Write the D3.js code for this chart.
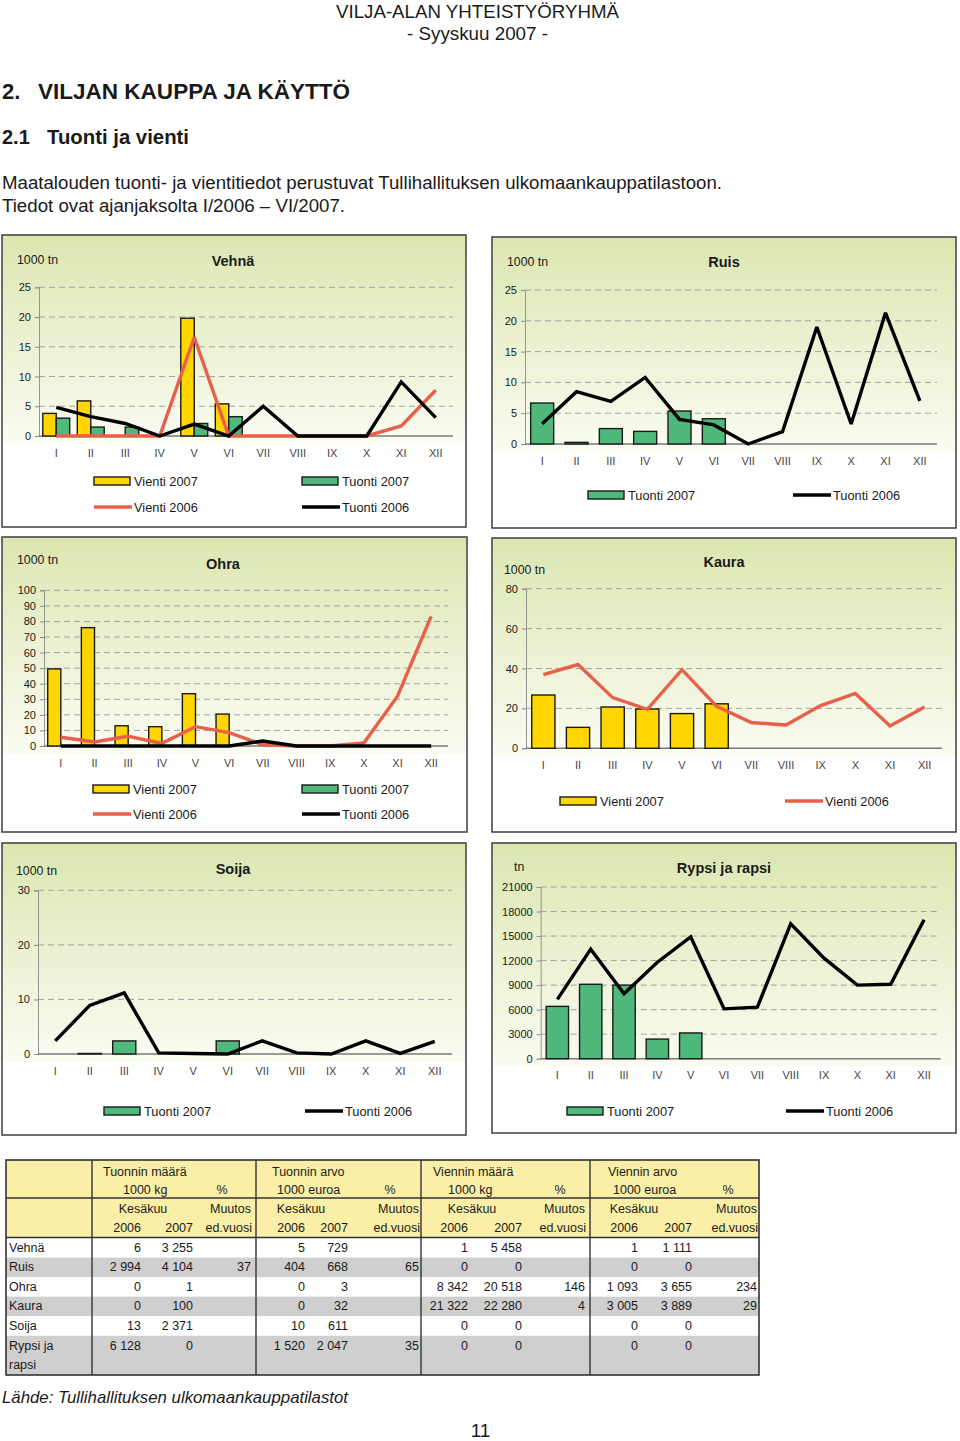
<!DOCTYPE html>
<html><head><meta charset="utf-8">
<script src="https://cdn.jsdelivr.net/npm/d3@7"></script>
<style>
body{margin:0;background:#fff;}
svg{display:block;font-family:"Liberation Sans",Arial,sans-serif;}
</style>
</head><body>
<svg id="page" width="960" height="1441"></svg>
<script>
// ---------- DATA ----------
const months = ["I","II","III","IV","V","VI","VII","VIII","IX","X","XI","XII"];

// Vehnä (1000 tn)
const vehnaVienti2007 = [3.8, 5.9, 0, 0, 19.8, 5.4];
const vehnaTuonti2007 = [3.0, 1.5, 1.5, 0, 2.1, 3.25];
const vehnaVienti2006 = [0, 0, 0, 0, 16.6, 0, 0, 0, 0, 0, 1.7, 7.7];
const vehnaTuonti2006 = [4.8, 3.25, 2.1, 0, 2.0, 0, 5.0, 0, 0, 0, 9.1, 3.1];

// Ruis (1000 tn)
const ruisTuonti2007 = [6.65, 0.27, 2.5, 2.05, 5.35, 4.1];
const ruisTuonti2006 = [3.3, 8.5, 6.9, 10.8, 4.0, 3.1, 0, 2.0, 19.0, 3.25, 21.3, 7.0];

// Ohra (1000 tn)
const ohraVienti2007 = [49.5, 76, 13, 12.4, 33.6, 20.5];
const ohraTuonti2007 = [0, 0, 0, 0, 0, 0];
const ohraVienti2006 = [5.6, 2.6, 6.2, 1.7, 12.4, 8.6, 0.8, 0, 0, 1.9, 32, 83.3];
const ohraTuonti2006 = [0, 0, 0, 0, 0, 0, 3.2, 0, 0, 0, 0, 0];

// Kaura (1000 tn)
const kauraVienti2007 = [26.7, 10.5, 20.7, 19.7, 17.4, 22.3];
const kauraVienti2006 = [36.9, 42, 25.4, 19.5, 39.4, 21, 12.9, 11.7, 21.4, 27.5, 11.2, 20.7];

// Soija (1000 tn)
const soijaTuonti2007 = [0, 0.1, 2.4, 0, 0, 2.4];
const soijaTuonti2006 = [2.4, 8.9, 11.2, 0.2, 0.1, 0, 2.4, 0.2, 0, 2.4, 0.1, 2.3];

// Rypsi ja rapsi (tn)
const rypsiTuonti2007 = [6400, 9100, 9000, 2400, 3150];
const rypsiTuonti2006 = [7250, 13400, 7950, 11800, 14900, 6100, 6300, 16500, 12300, 9000, 9100, 17000];

// Tick values
const ticks25 = [0, 5, 10, 15, 20, 25];
const ticks100 = [0, 10, 20, 30, 40, 50, 60, 70, 80, 90, 100];
const ticks80 = [0, 20, 40, 60, 80];
const ticks30 = [0, 10, 20, 30];
const ticks21000 = [0, 3000, 6000, 9000, 12000, 15000, 18000, 21000];

// Table
const tableRows = ["Vehnä", "Ruis", "Ohra", "Kaura", "Soija", "Rypsi ja rapsi"];
const groupTitles = ["Tuonnin määrä", "Tuonnin arvo", "Viennin määrä", "Viennin arvo"];
const groupUnits = ["1000 kg", "1000 euroa", "1000 kg", "1000 euroa"];
const tuontiMaara2006 = [6, 2994, 0, 0, 13, 6128];
const tuontiMaara2007 = [3255, 4104, 1, 100, 2371, 0];
const tuontiMaaraMuutos = [null, 37, null, null, null, null];
const tuontiArvo2006 = [5, 404, 0, 0, 10, 1520];
const tuontiArvo2007 = [729, 668, 3, 32, 611, 2047];
const tuontiArvoMuutos = [null, 65, null, null, null, 35];
const vientiMaara2006 = [1, 0, 8342, 21322, 0, 0];
const vientiMaara2007 = [5458, 0, 20518, 22280, 0, 0];
const vientiMaaraMuutos = [null, null, 146, 4, null, null];
const vientiArvo2006 = [1, 0, 1093, 3005, 0, 0];
const vientiArvo2007 = [1111, 0, 3655, 3889, 0, 0];
const vientiArvoMuutos = [null, null, 234, 29, null, null];

// ---------- STYLES ----------
const C = {
  yellow: "#ffd600", green: "#4fb97b", red: "#e8604a", black: "#000",
  text: "#1a1a1a", grid: "#9a9a9a", border: "#4a4a4a"
};

const svg = d3.select("#page");
const defs = svg.append("defs");
const grad = defs.append("linearGradient").attr("id", "bg").attr("x1", 0).attr("y1", 0).attr("x2", 0).attr("y2", 1);
grad.append("stop").attr("offset", 0).attr("stop-color", "#dbe6b0");
grad.append("stop").attr("offset", 0.4).attr("stop-color", "#e8efcb");
grad.append("stop").attr("offset", 1).attr("stop-color", "#fafcf2");

// ---------- PAGE TEXT ----------
function txt(x, y, s, o = {}) {
  const t = svg.append("text").attr("x", x).attr("y", y).text(s)
    .attr("font-size", o.size || 12).attr("fill", o.fill || C.text);
  if (o.anchor) t.attr("text-anchor", o.anchor);
  if (o.weight) t.attr("font-weight", o.weight);
  if (o.style) t.attr("font-style", o.style);
  if (o.len) t.attr("textLength", o.len).attr("lengthAdjust", "spacingAndGlyphs");
  if (o.db) t.attr("dominant-baseline", o.db);
  return t;
}
txt(477.5, 18, "VILJA-ALAN YHTEISTYÖRYHMÄ", {size: 18.7, anchor: "middle", len: 283});
txt(477.5, 40, "- Syyskuu 2007 -", {size: 18.7, anchor: "middle", len: 141});
txt(2, 99, "2.", {size: 22, weight: "bold"});
txt(38, 99, "VILJAN KAUPPA JA KÄYTTÖ", {size: 22, weight: "bold", len: 312});
txt(2, 144, "2.1", {size: 20, weight: "bold"});
txt(47, 144, "Tuonti ja vienti", {size: 20, weight: "bold", len: 142});
txt(2, 189, "Maatalouden tuonti- ja vientitiedot perustuvat Tullihallituksen ulkomaankauppatilastoon.", {size: 17.5, len: 720});
txt(2, 212, "Tiedot ovat ajanjaksolta I/2006 – VI/2007.", {size: 17.5, len: 343});
txt(2, 1403, "Lähde: Tullihallituksen ulkomaankauppatilastot", {size: 17, style: "italic", len: 346});
txt(480.5, 1437, "11", {size: 19, anchor: "middle"});

// ---------- CHARTS ----------
const S = {
  v07: {name: "Vienti 2007", type: "bar", fill: C.yellow},
  t07: {name: "Tuonti 2007", type: "bar", fill: C.green},
  v06: {name: "Vienti 2006", type: "line", stroke: C.red},
  t06: {name: "Tuonti 2006", type: "line", stroke: C.black}
};

const charts = [
  {title: "Vehnä", unit: "1000 tn", box: [2, 235, 464, 292], tpos: [233, 261], upos: [17, 260],
   plot: {x0: 39, x1: 453, yTop: 287.3, y0: 436}, yMax: 25, ticks: ticks25, pad: 0.22,
   bars: [[S.v07, vehnaVienti2007], [S.t07, vehnaTuonti2007]],
   lines: [[S.v06, vehnaVienti2006], [S.t06, vehnaTuonti2006]],
   legend: [[S.v07, 94, 481], [S.t07, 302, 481], [S.v06, 94, 507], [S.t06, 302, 507]]},
  {title: "Ruis", unit: "1000 tn", box: [492, 237, 464, 291], tpos: [724, 262], upos: [507, 262],
   plot: {x0: 525, x1: 937, yTop: 290, y0: 444}, yMax: 25, ticks: ticks25, pad: 0.33,
   bars: [[S.t07, ruisTuonti2007]],
   lines: [[S.t06, ruisTuonti2006]],
   legend: [[S.t07, 588, 495], [S.t06, 793, 495]]},
  {title: "Ohra", unit: "1000 tn", box: [2, 537, 465, 295], tpos: [223, 564], upos: [17, 560],
   plot: {x0: 44, x1: 448, yTop: 590.3, y0: 746}, yMax: 100, ticks: ticks100, pad: 0.22,
   bars: [[S.v07, ohraVienti2007], [S.t07, ohraTuonti2007]],
   lines: [[S.v06, ohraVienti2006], [S.t06, ohraTuonti2006]],
   legend: [[S.v07, 93, 789], [S.t07, 302, 789], [S.v06, 93, 814], [S.t06, 302, 814]]},
  {title: "Kaura", unit: "1000 tn", box: [492, 538, 464, 294], tpos: [724, 562], upos: [504, 570],
   plot: {x0: 526, x1: 942, yTop: 588.7, y0: 748.3}, yMax: 80, ticks: ticks80, pad: 0.33,
   bars: [[S.v07, kauraVienti2007]],
   lines: [[S.v06, kauraVienti2006]],
   legend: [[S.v07, 560, 801], [S.v06, 785, 801]]},
  {title: "Soija", unit: "1000 tn", box: [2, 843, 464, 292], tpos: [233, 869], upos: [16, 871],
   plot: {x0: 38, x1: 452, yTop: 890.3, y0: 1054}, yMax: 30, ticks: ticks30, pad: 0.33,
   bars: [[S.t07, soijaTuonti2007]],
   lines: [[S.t06, soijaTuonti2006]],
   legend: [[S.t07, 104, 1111], [S.t06, 305, 1111]]},
  {title: "Rypsi ja rapsi", unit: "tn", box: [492, 843, 464, 290], tpos: [724, 868], upos: [514, 867],
   plot: {x0: 540.7, x1: 940.7, yTop: 887, y0: 1058.7}, yMax: 21000, ticks: ticks21000, pad: 0.33,
   bars: [[S.t07, rypsiTuonti2007]],
   lines: [[S.t06, rypsiTuonti2006]],
   legend: [[S.t07, 567, 1111], [S.t06, 786, 1111]]}
];

function drawChart(cfg) {
  const g = svg.append("g");
  const [bx, by, bw, bh] = cfg.box;
  const p = cfg.plot;
  g.append("rect").attr("x", bx).attr("y", by).attr("width", bw).attr("height", bh).attr("fill", "#fff");
  g.append("rect").attr("x", bx).attr("y", by).attr("width", bw).attr("height", p.y0 + 8 - by).attr("fill", "url(#bg)");
  g.append("rect").attr("x", bx).attr("y", by).attr("width", bw).attr("height", bh)
    .attr("fill", "none").attr("stroke", C.border).attr("stroke-width", 1.6);

  const x = d3.scaleBand().domain(months).range([p.x0, p.x1]).paddingInner(cfg.pad).paddingOuter(cfg.pad / 2);
  const y = d3.scaleLinear().domain([0, cfg.yMax]).range([p.y0, p.yTop]);

  // gridlines
  g.append("g").selectAll("line").data(cfg.ticks.filter(t => t > 0)).join("line")
    .attr("x1", p.x0).attr("x2", p.x1).attr("y1", d => y(d)).attr("y2", d => y(d))
    .attr("stroke", C.grid).attr("stroke-width", 0.9).attr("stroke-dasharray", "6,4");

  // y axis
  const ya = g.append("g").attr("transform", `translate(${p.x0},0)`)
    .call(d3.axisLeft(y).tickValues(cfg.ticks).tickSize(4).tickPadding(4).tickFormat(d3.format("d")));
  ya.select(".domain").attr("stroke", "#8a8a8a").attr("stroke-width", 0.9);
  ya.selectAll(".tick line").attr("stroke", "#8a8a8a");
  ya.selectAll(".tick text").attr("font-size", 11).attr("fill", C.text)
    .attr("font-family", '"Liberation Sans",Arial,sans-serif');

  // x axis
  const xa = g.append("g").attr("transform", `translate(0,${p.y0})`)
    .call(d3.axisBottom(x).tickSize(0).tickPadding(13));
  xa.select(".domain").remove();
  xa.selectAll(".tick text").attr("font-size", 11).attr("fill", "#444")
    .attr("font-family", '"Liberation Sans",Arial,sans-serif');
  g.append("line").attr("x1", p.x0).attr("x2", p.x1).attr("y1", p.y0).attr("y2", p.y0)
    .attr("stroke", "#7a7a7a").attr("stroke-width", 1.4);

  // bars
  const sub = d3.scaleBand().domain(d3.range(cfg.bars.length)).range([0, x.bandwidth()]);
  cfg.bars.forEach(([s, vals], k) => {
    g.append("g").selectAll("rect").data(vals.map((v, i) => ({v, m: months[i]})).filter(d => d.v > 0)).join("rect")
      .attr("x", d => x(d.m) + sub(k)).attr("width", sub.bandwidth())
      .attr("y", d => y(d.v)).attr("height", d => y(0) - y(d.v))
      .attr("fill", s.fill).attr("stroke", "#1a1a1a").attr("stroke-width", 1.4);
  });

  // lines
  cfg.lines.forEach(([s, vals]) => {
    const line = d3.line().x((d, i) => x(months[i]) + x.bandwidth() / 2).y(d => y(d));
    g.append("path").attr("d", line(vals)).attr("fill", "none").attr("stroke", s.stroke)
      .attr("stroke-width", 3.4).attr("stroke-linejoin", "miter").attr("stroke-miterlimit", 3);
  });

  // titles
  g.append("text").attr("x", cfg.tpos[0]).attr("y", cfg.tpos[1]).attr("text-anchor", "middle")
    .attr("dominant-baseline", "central").attr("font-size", 14.5).attr("font-weight", "bold")
    .attr("fill", C.text).text(cfg.title);
  g.append("text").attr("x", cfg.upos[0]).attr("y", cfg.upos[1])
    .attr("dominant-baseline", "central").attr("font-size", 12.3).attr("fill", C.text).text(cfg.unit);

  // legend
  cfg.legend.forEach(([s, lx, ly]) => {
    if (s.type === "bar") {
      g.append("rect").attr("x", lx).attr("y", ly - 4).attr("width", 36).attr("height", 8)
        .attr("fill", s.fill).attr("stroke", "#1a1a1a").attr("stroke-width", 1.4);
    } else {
      g.append("line").attr("x1", lx).attr("x2", lx + 38).attr("y1", ly).attr("y2", ly)
        .attr("stroke", s.stroke).attr("stroke-width", 3.6);
    }
    g.append("text").attr("x", lx + 40).attr("y", ly).attr("dominant-baseline", "central")
      .attr("font-size", 12.8).attr("fill", C.text).text(s.name);
  });
}
charts.forEach(drawChart);

// ---------- TABLE ----------
const T = {x0: 6, x1: 759, y0: 1160, hLine1: 1198, hLine2: 1237.5, rowTop: 1238, rowH: 19.55, bottom: 1375};
const groupX = [[92, 256], [256, 421], [421, 590], [590, 759]];
const colRight = [[141, 193, 251], [305, 348, 419], [468, 522, 585], [638, 692, 757]];
const kesakuuX = [143, 301, 472, 634];
const pctX = [222, 390, 560, 728];
const titleX = [103, 272, 433, 608];
const unitX = [123, 277, 448, 613];
const groupData = [
  [tuontiMaara2006, tuontiMaara2007, tuontiMaaraMuutos],
  [tuontiArvo2006, tuontiArvo2007, tuontiArvoMuutos],
  [vientiMaara2006, vientiMaara2007, vientiMaaraMuutos],
  [vientiArvo2006, vientiArvo2007, vientiArvoMuutos]
];
const fmt = v => v == null ? "" : d3.format(",")(v).replace(/,/g, " ");
const tg = svg.append("g").attr("font-size", 12.5).attr("fill", C.text);

// backgrounds
tg.append("rect").attr("x", T.x0).attr("y", T.y0).attr("width", T.x1 - T.x0).attr("height", T.hLine2 - T.y0).attr("fill", "#fbefa7");
const rowSpans = tableRows.map((r, i) => ({r, i, top: T.rowTop + i * T.rowH, h: i === tableRows.length - 1 ? T.bottom - (T.rowTop + i * T.rowH) : T.rowH}));
tg.selectAll("rect.row").data(rowSpans).join("rect").attr("class", "row")
  .attr("x", T.x0).attr("y", d => d.top).attr("width", T.x1 - T.x0).attr("height", d => d.h)
  .attr("fill", d => d.i % 2 === 1 ? "#cfcfd0" : "#fff");

// header texts
groupTitles.forEach((t, k) => {
  tg.append("text").attr("x", titleX[k]).attr("y", 1171.5).attr("dominant-baseline", "central").text(t);
  tg.append("text").attr("x", unitX[k]).attr("y", 1190).attr("dominant-baseline", "central").text(groupUnits[k]);
  tg.append("text").attr("x", pctX[k]).attr("y", 1190).attr("text-anchor", "middle").attr("dominant-baseline", "central").text("%");
  tg.append("text").attr("x", kesakuuX[k]).attr("y", 1209).attr("text-anchor", "middle").attr("dominant-baseline", "central").text("Kesäkuu");
  tg.append("text").attr("x", colRight[k][2]).attr("y", 1209).attr("text-anchor", "end").attr("dominant-baseline", "central").text("Muutos");
  tg.append("text").attr("x", colRight[k][0]).attr("y", 1228).attr("text-anchor", "end").attr("dominant-baseline", "central").text("2006");
  tg.append("text").attr("x", colRight[k][1]).attr("y", 1228).attr("text-anchor", "end").attr("dominant-baseline", "central").text("2007");
  tg.append("text").attr("x", colRight[k][2] + 1).attr("y", 1228).attr("text-anchor", "end").attr("dominant-baseline", "central").text("ed.vuosi");
});

// row labels and values
rowSpans.forEach(d => {
  const cy = d.top + T.rowH / 2;
  if (d.r === "Rypsi ja rapsi") {
    tg.append("text").attr("x", 9).attr("y", cy).attr("dominant-baseline", "central").text("Rypsi ja");
    tg.append("text").attr("x", 9).attr("y", cy + T.rowH).attr("dominant-baseline", "central").text("rapsi");
  } else {
    tg.append("text").attr("x", 9).attr("y", cy).attr("dominant-baseline", "central").text(d.r);
  }
  groupData.forEach((cols, k) => {
    cols.forEach((arr, c) => {
      tg.append("text").attr("x", colRight[k][c]).attr("y", cy).attr("text-anchor", "end")
        .attr("dominant-baseline", "central").text(fmt(arr[d.i]));
    });
  });
});

// lines
const lineAttr = sel => sel.attr("stroke", "#333").attr("stroke-width", 1.4);
[T.hLine1, T.hLine2].forEach(yy => lineAttr(tg.append("line").attr("x1", T.x0).attr("x2", T.x1).attr("y1", yy).attr("y2", yy)));
groupX.forEach(([a]) => lineAttr(tg.append("line").attr("x1", a).attr("x2", a).attr("y1", T.y0).attr("y2", T.bottom)));
tg.append("rect").attr("x", T.x0).attr("y", T.y0).attr("width", T.x1 - T.x0).attr("height", T.bottom - T.y0)
  .attr("fill", "none").attr("stroke", "#333").attr("stroke-width", 1.6);
</script>
</body></html>
